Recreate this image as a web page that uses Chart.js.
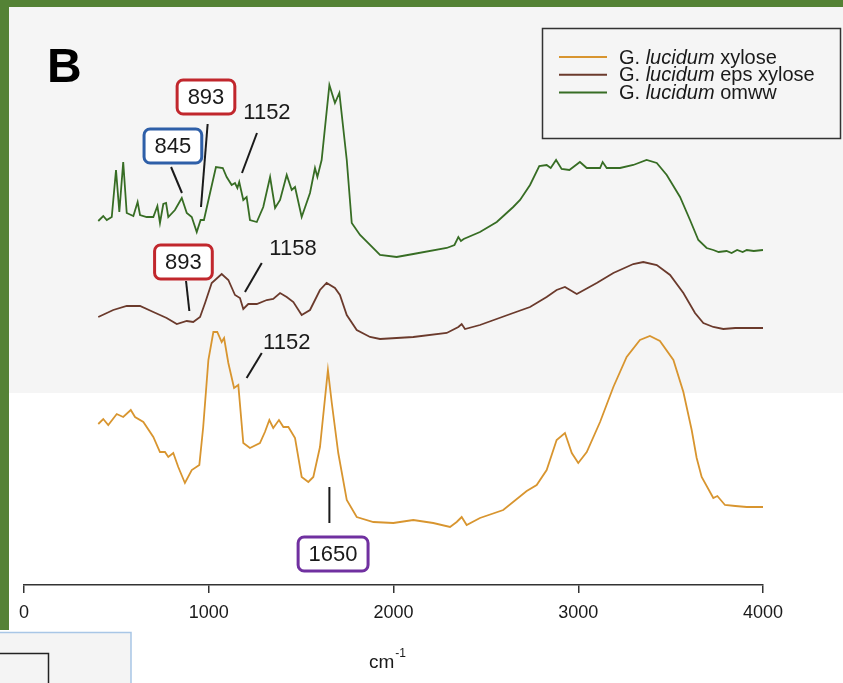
<!DOCTYPE html>
<html><head><meta charset="utf-8">
<script src="https://cdn.jsdelivr.net/npm/chart.js@4/dist/chart.umd.min.js"></script>
<style>html,body{margin:0;padding:0;background:#fff;}canvas{display:block;}</style>
</head><body>
<canvas id="c" width="843" height="683"></canvas>
<script>
// ---- data (wavenumber cm-1, offset absorbance a.u.) ----
const seriesNames = ['G. lucidum xylose', 'G. lucidum eps xylose', 'G. lucidum omww'];
const xAxisTicks = [0, 1000, 2000, 3000, 4000];
const xAxisTitle = 'cm';
const xAxisTitleSup = '-1';
const panelLabel = 'B';

const xyloseWn = [402,429,456,502,537,578,601,646,700,736,763,781,808,835,871,908,949,970,998,1025,1046,1070,1083,1106,1137,1160,1187,1223,1277,1304,1328,1349,1380,1404,1431,1467,1503,1539,1566,1602,1645,1666,1701,1747,1801,1891,1999,2107,2215,2306,2342,2369,2396,2468,2594,2721,2775,2829,2883,2928,2965,3000,3046,3118,3190,3262,3334,3388,3442,3515,3569,3614,3641,3668,3731,3753,3794,3850,3912,4000];
const xyloseAbs = [1.61,1.66,1.60,1.71,1.68,1.75,1.68,1.63,1.48,1.33,1.33,1.28,1.32,1.18,1.02,1.15,1.20,1.58,2.25,2.53,2.53,2.43,2.47,2.22,1.97,2.00,1.42,1.37,1.42,1.53,1.65,1.57,1.65,1.58,1.58,1.47,1.08,1.03,1.08,1.38,2.15,1.82,1.32,0.85,0.68,0.63,0.62,0.65,0.62,0.58,0.63,0.68,0.60,0.67,0.75,0.94,1.00,1.15,1.45,1.52,1.32,1.22,1.33,1.63,1.98,2.28,2.45,2.49,2.44,2.25,1.93,1.55,1.27,1.08,0.87,0.89,0.80,0.79,0.78,0.78];

const epsWn = [402,483,556,628,700,772,827,881,916,953,980,1016,1070,1106,1142,1169,1187,1214,1260,1314,1349,1386,1422,1458,1503,1548,1602,1638,1683,1710,1747,1801,1873,1927,2107,2288,2351,2369,2387,2468,2648,2739,2829,2883,2928,2992,3100,3190,3298,3352,3425,3497,3569,3632,3677,3731,3785,3850,3912,4000];
const epsAbs = [2.68,2.75,2.79,2.79,2.73,2.67,2.61,2.64,2.63,2.68,2.82,3.02,3.11,3.05,2.90,2.87,2.76,2.81,2.81,2.85,2.86,2.92,2.88,2.83,2.70,2.75,2.95,3.02,2.97,2.90,2.70,2.55,2.48,2.46,2.48,2.52,2.58,2.61,2.56,2.60,2.72,2.78,2.88,2.95,2.98,2.91,3.02,3.12,3.21,3.23,3.20,3.10,2.92,2.72,2.62,2.58,2.56,2.57,2.57,2.57];

const omwwWn = [402,429,448,475,498,516,537,556,592,615,628,664,700,722,736,754,769,781,817,854,881,908,935,956,974,1007,1039,1076,1097,1124,1142,1155,1165,1187,1205,1223,1260,1295,1332,1359,1386,1422,1449,1467,1503,1548,1575,1588,1611,1653,1683,1707,1747,1774,1819,1927,2017,2107,2288,2330,2351,2365,2380,2468,2559,2648,2685,2739,2789,2829,2851,2880,2910,2952,3009,3046,3118,3132,3154,3226,3298,3370,3425,3479,3551,3605,3650,3695,3731,3760,3803,3830,3860,3890,3912,3950,4000];
const omwwAbs = [3.64,3.69,3.65,3.68,4.15,3.73,4.23,3.72,3.69,3.83,3.70,3.68,3.68,3.79,3.62,3.81,3.82,3.68,3.75,3.87,3.72,3.68,3.53,3.65,3.65,3.92,4.18,4.17,4.08,4.00,4.02,3.97,4.03,3.85,3.88,3.65,3.63,3.78,4.08,3.77,3.85,4.10,3.95,3.98,3.68,3.92,4.17,4.08,4.25,5.00,4.82,4.92,4.25,3.62,3.50,3.30,3.28,3.31,3.37,3.40,3.48,3.44,3.46,3.53,3.63,3.78,3.85,4.00,4.19,4.20,4.17,4.25,4.16,4.15,4.23,4.17,4.17,4.23,4.17,4.17,4.20,4.25,4.22,4.10,3.88,3.65,3.45,3.37,3.35,3.33,3.34,3.32,3.35,3.33,3.35,3.34,3.35];

const seriesColors = ['#d8952f', '#6b3a2c', '#376d24'];

// annotation labels: text, label centre (wavenumber, a.u.), leader line endpoints, box colour
const annotations = [
  {text:'893',  cx:985,  cy:4.88, line:[994,4.61,958,3.78],  box:'#c1272d'},
  {text:'1152', cx:1315, cy:4.73, line:[1261,4.52,1180,4.12], box:null},
  {text:'845',  cx:806,  cy:4.39, line:[796,4.18,855,3.92],  box:'#2e5fa8'},
  {text:'893',  cx:863,  cy:3.23, line:[877,3.04,895,2.74],  box:'#c1272d'},
  {text:'1158', cx:1456, cy:3.37, line:[1287,3.22,1196,2.93], box:null},
  {text:'1152', cx:1422, cy:2.43, line:[1287,2.32,1205,2.07], box:null},
  {text:'1650', cx:1673, cy:0.31, line:[1653,0.98,1653,0.62], box:'#7030a0'}
];

function pts(wn, ab){ return wn.map((w,i)=>({x:w, y:ab[i]})); }

const FONT = '"Liberation Sans", Arial, Helvetica, sans-serif';

const decorPlugin = {
  id:'decor',
  beforeDraw(chart){
    const ctx = chart.ctx;
    ctx.save();
    ctx.fillStyle = '#ffffff';
    ctx.fillRect(0,0,843,683);
    ctx.fillStyle = '#f5f5f5';
    ctx.fillRect(9,7,834,386);
    ctx.fillStyle = '#548235';
    ctx.fillRect(0,0,843,7);
    ctx.fillRect(0,0,9,630);
    // partial neighbouring panel, bottom-left
    ctx.fillStyle = '#f4f4f4';
    ctx.fillRect(0,632,131,51);
    ctx.strokeStyle = '#a8c6e6';
    ctx.lineWidth = 1.5;
    ctx.strokeRect(-2,632.5,133,60);
    ctx.strokeStyle = '#222';
    ctx.lineWidth = 1.5;
    ctx.beginPath();
    ctx.moveTo(0,653.5); ctx.lineTo(48.5,653.5); ctx.lineTo(48.5,690);
    ctx.stroke();
    ctx.restore();
  },
  afterDraw(chart){
    const ctx = chart.ctx;
    const xs = chart.scales.x, ys = chart.scales.y;
    ctx.save();
    // annotations
    ctx.font = '22px ' + FONT;
    ctx.textAlign = 'center';
    ctx.textBaseline = 'middle';
    annotations.forEach(a=>{
      const [x1,y1,x2,y2] = a.line;
      ctx.strokeStyle = '#1a1a1a';
      ctx.lineWidth = 2;
      ctx.beginPath();
      ctx.moveTo(xs.getPixelForValue(x1), ys.getPixelForValue(y1));
      ctx.lineTo(xs.getPixelForValue(x2), ys.getPixelForValue(y2));
      ctx.stroke();
      const cx = xs.getPixelForValue(a.cx), cy = ys.getPixelForValue(a.cy);
      if (a.box){
        const w = ctx.measureText(a.text).width + 21, h = 34;
        ctx.fillStyle = '#ffffff';
        ctx.strokeStyle = a.box;
        ctx.lineWidth = 3;
        ctx.beginPath();
        ctx.roundRect(cx-w/2, cy-h/2, w, h, 6);
        ctx.fill(); ctx.stroke();
      }
      ctx.fillStyle = '#1a1a1a';
      ctx.fillText(a.text, cx, cy+1);
    });
    // legend
    ctx.fillStyle = '#f5f5f5';
    ctx.strokeStyle = '#333';
    ctx.lineWidth = 1.5;
    ctx.fillRect(542,28,299,111);
    ctx.strokeRect(542.5,28.5,298,110);
    ctx.textAlign = 'left';
    ctx.textBaseline = 'middle';
    seriesNames.forEach((name,i)=>{
      const y = 57 + i*17.8;
      ctx.strokeStyle = seriesColors[i];
      ctx.lineWidth = 2;
      ctx.beginPath(); ctx.moveTo(559,y); ctx.lineTo(607,y); ctx.stroke();
      const words = name.split(' ');
      let x = 619;
      ctx.fillStyle = '#1a1a1a';
      ctx.font = '20px ' + FONT;
      ctx.fillText(words[0] + ' ', x, y+1); x += ctx.measureText(words[0] + ' ').width;
      ctx.font = 'italic 20px ' + FONT;
      ctx.fillText(words[1], x, y+1); x += ctx.measureText(words[1]).width;
      ctx.font = '20px ' + FONT;
      ctx.fillText(' ' + words.slice(2).join(' '), x, y+1);
    });
    // panel letter
    ctx.font = 'bold 48px ' + FONT;
    ctx.fillStyle = '#000';
    ctx.textBaseline = 'alphabetic';
    ctx.fillText(panelLabel, 47, 82);
    // axis title with superscript
    ctx.font = '19px ' + FONT;
    ctx.fillStyle = '#1a1a1a';
    ctx.fillText(xAxisTitle, 369, 668);
    const tw = ctx.measureText(xAxisTitle).width;
    ctx.font = '12px ' + FONT;
    ctx.fillText(xAxisTitleSup, 369 + tw + 1, 657);
    ctx.restore();
  }
};

const ds = (label, wn, ab, color) => ({
  label, data: pts(wn, ab), borderColor: color, borderWidth: 1.8,
  pointRadius: 0, tension: 0, fill: false
});

new Chart(document.getElementById('c'), {
  type: 'line',
  data: {
    datasets: [
      ds(seriesNames[0], xyloseWn, xyloseAbs, seriesColors[0]),
      ds(seriesNames[1], epsWn, epsAbs, seriesColors[1]),
      ds(seriesNames[2], omwwWn, omwwAbs, seriesColors[2])
    ]
  },
  options: {
    responsive: false,
    devicePixelRatio: 1,
    animation: false,
    layout: { padding: { left: 24, right: 80, top: 7, bottom: 0 } },
    plugins: { legend: { display: false }, tooltip: { enabled: false } },
    scales: {
      x: {
        type: 'linear', min: 0, max: 4000,
        afterBuildTicks: s => { s.ticks = xAxisTicks.map(v => ({ value: v })); },
        afterFit: s => { s.height = 98; },
        grid: { drawOnChartArea: false, drawTicks: true, tickLength: 8, color: '#333', lineWidth: 1.5 },
        border: { display: true, color: '#333', width: 1.5 },
        ticks: { color: '#1a1a1a', font: { size: 18, family: FONT }, padding: 9, maxRotation: 0,
                 callback: v => String(v) }
      },
      y: { display: false, min: 0, max: 5.78 }
    }
  },
  plugins: [decorPlugin]
});
</script>
</body></html>
